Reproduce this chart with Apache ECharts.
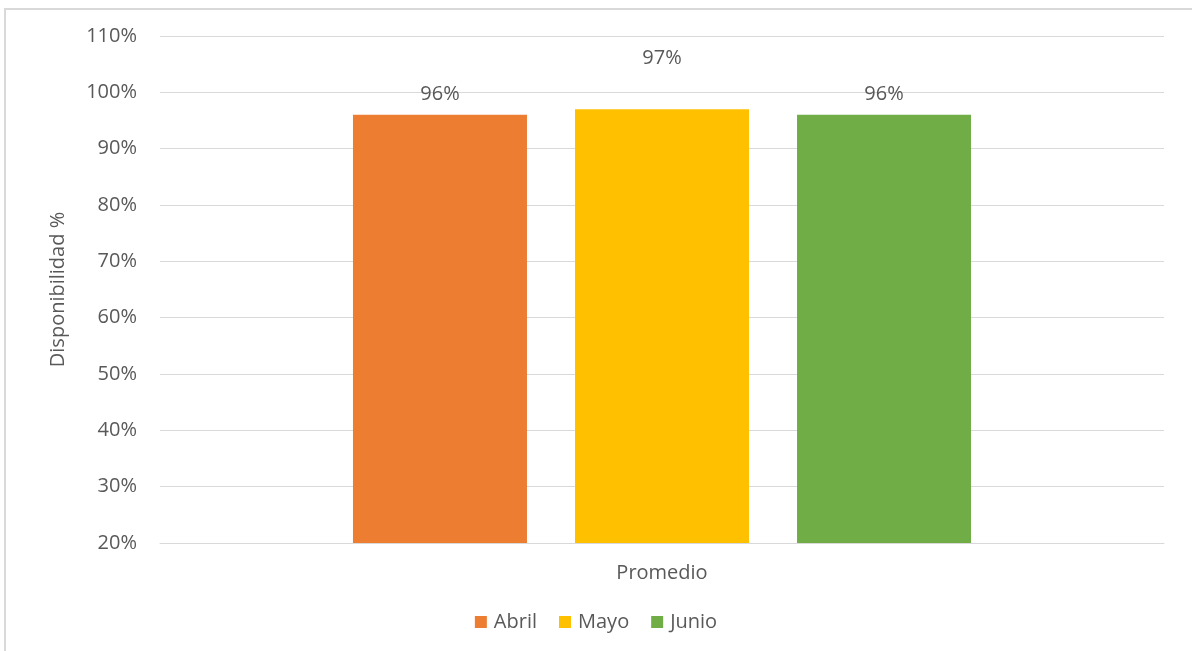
<!DOCTYPE html>
<html>
<head>
<meta charset="utf-8">
<script src="https://cdn.jsdelivr.net/npm/echarts@6/dist/echarts.min.js"></script>
<style>
html,body{margin:0;padding:0;background:#fff;overflow:hidden;}
#frame{position:absolute;left:4px;top:8px;width:1300px;height:800px;border:2px solid #d9d9d9;box-sizing:border-box;}
#chart{position:absolute;left:0;top:0;width:1192px;height:651px;}
</style>
</head>
<body>
<div id="frame"></div>
<div id="chart"></div>
<script>
const categories = ['Promedio'];
const seriesNames = ['Abril', 'Mayo', 'Junio'];
const seriesValues = [96, 97, 96];
const seriesColors = ['#ED7D31', '#FFC000', '#70AD47'];
const labelDistances = [11, 41, 11];
const yMin = 20, yMax = 110, yInterval = 10;
const yAxisTitle = 'Disponibilidad %';

const fontFamily = '"Open Sans", sans-serif';
const textColor = '#595959';
const fs = 20;

const chart = echarts.init(document.getElementById('chart'));
chart.setOption({
  animation: false,
  backgroundColor: 'transparent',
  textStyle: { fontFamily: fontFamily },
  grid: { left: 160, right: 28, top: 36, bottom: 108 },
  legend: {
    data: seriesNames,
    bottom: 14,
    left: 'center',
    itemWidth: 12,
    itemHeight: 12,
    itemGap: 22,
    icon: 'rect',
    textStyle: { color: textColor, fontSize: fs, fontFamily: fontFamily, padding: [0, 0, 0, 2] }
  },
  xAxis: {
    type: 'category',
    data: categories,
    axisLine: { show: true, lineStyle: { color: '#d9d9d9', width: 1 } },
    axisTick: { show: false },
    axisLabel: { color: textColor, fontSize: fs, margin: 20, fontFamily: fontFamily }
  },
  yAxis: {
    type: 'value',
    min: yMin,
    max: yMax,
    interval: yInterval,
    name: yAxisTitle,
    nameLocation: 'middle',
    nameGap: 92,
    nameRotate: 90,
    nameTextStyle: { color: textColor, fontSize: fs, fontFamily: fontFamily },
    axisLine: { show: false },
    axisTick: { show: false },
    axisLabel: { color: textColor, fontSize: fs, margin: 23, fontFamily: fontFamily, formatter: v => v + '%' },
    splitLine: { lineStyle: { color: '#d9d9d9', width: 1 } }
  },
  series: seriesNames.map((name, i) => ({
    name: name,
    type: 'bar',
    data: [seriesValues[i]],
    barWidth: 174,
    barGap: '27.6%',
    itemStyle: { color: seriesColors[i] },
    label: {
      show: true,
      position: 'top',
      distance: labelDistances[i],
      color: textColor,
      fontSize: fs,
      fontFamily: fontFamily,
      formatter: p => p.value + '%'
    }
  }))
});
</script>
</body>
</html>
